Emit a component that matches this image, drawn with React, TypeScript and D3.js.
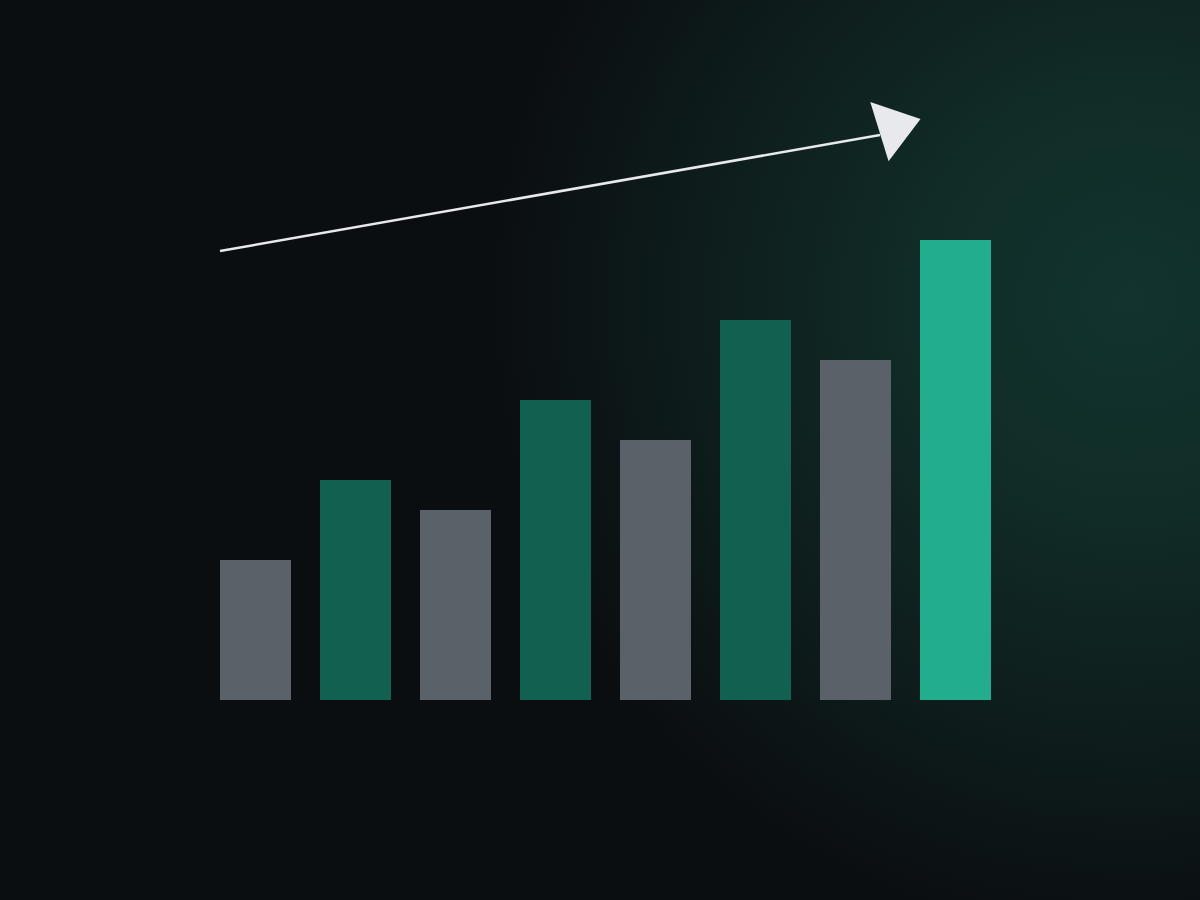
import React, { useEffect, useRef } from "react";
import * as d3 from "d3";

// bar values (relative heights)
const categories = ["A", "B", "C", "D", "E", "F", "G", "H"];
const values = [140, 220, 190, 300, 260, 380, 340, 460];
const kinds = ["gray", "green", "gray", "green", "gray", "green", "gray", "accent"];

// trend arrow, in data space: [category index, value]
const arrowStart = [0, 449];
const arrowEnd = [6.6, 565];
const arrowTip = [7.005, 581];

const colors = {
  gray: "#5b6169",
  green: "#12604f",
  accent: "#22ad8e",
};

const App = () => {
  const svgRef = useRef(null);
  const width = 1200;
  const height = 900;

  useEffect(() => {
    document.body.style.margin = "0";
    const svg = d3.select(svgRef.current);
    svg.selectAll("*").remove();

    const margin = { top: 200, right: 209, bottom: 200, left: 220 };

    const xScale = d3
      .scaleBand()
      .domain(categories)
      .range([margin.left, width - margin.right])
      .paddingInner(0.29)
      .paddingOuter(0)
      .align(0);

    const yScale = d3
      .scaleLinear()
      .domain([0, 500])
      .range([height - margin.bottom, height - margin.bottom - 500]);

    // background + glow
    const defs = svg.append("defs");
    const glow = defs
      .append("radialGradient")
      .attr("id", "glow")
      .attr("cx", 1130)
      .attr("cy", 300)
      .attr("r", 640)
      .attr("gradientUnits", "userSpaceOnUse");
    glow.append("stop").attr("offset", "0%").attr("stop-color", "#12332e");
    glow.append("stop").attr("offset", "30%").attr("stop-color", "#112d28");
    glow.append("stop").attr("offset", "65%").attr("stop-color", "#0e1e1d");
    glow.append("stop").attr("offset", "100%").attr("stop-color", "#0b0e11");

    svg.append("rect").attr("width", width).attr("height", height).attr("fill", "#0b0e11");
    svg.append("rect").attr("width", width).attr("height", height).attr("fill", "url(#glow)");

    // bars
    svg
      .append("g")
      .selectAll("rect")
      .data(values)
      .join("rect")
      .attr("x", (d, i) => xScale(categories[i]))
      .attr("y", (d) => yScale(d))
      .attr("width", xScale.bandwidth())
      .attr("height", (d) => yScale(0) - yScale(d))
      .attr("fill", (d, i) => colors[kinds[i]]);

    // trend arrow
    const step = xScale.step();
    const ax = (i) => margin.left + i * step;
    const x1 = ax(arrowStart[0]);
    const y1 = yScale(arrowStart[1]);
    const x2 = ax(arrowEnd[0]);
    const y2 = yScale(arrowEnd[1]);

    svg
      .append("line")
      .attr("x1", x1)
      .attr("y1", y1)
      .attr("x2", x2)
      .attr("y2", y2)
      .attr("stroke", "#e8e9ec")
      .attr("stroke-width", 2.5);

    // arrowhead triangle, tilted slightly steeper than the line
    const tipX = ax(arrowTip[0]);
    const tipY = yScale(arrowTip[1]);
    const headAngle = -0.3;
    const len = 43;
    const half = 31;
    const bx = tipX - Math.cos(headAngle) * len;
    const by = tipY - Math.sin(headAngle) * len;
    const px = -Math.sin(headAngle) * half;
    const py = Math.cos(headAngle) * half;
    svg
      .append("path")
      .attr(
        "d",
        d3.line()([
          [tipX, tipY],
          [bx + px, by + py],
          [bx - px, by - py],
        ]) + "Z"
      )
      .attr("fill", "#e8e9ec");
  }, []);

  return (
    <svg
      ref={svgRef}
      width={width}
      height={height}
      style={{ display: "block", position: "absolute", left: 0, top: 0 }}
    ></svg>
  );
};

export default App;
